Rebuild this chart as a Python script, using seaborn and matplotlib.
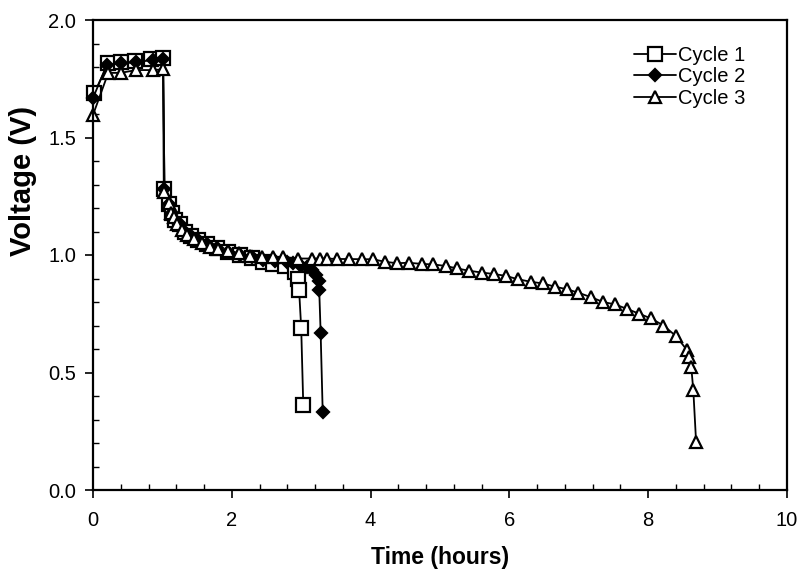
import pandas as pd
import numpy as np
import matplotlib
matplotlib.use('Agg')
import matplotlib.pyplot as plt
import seaborn as sns
from matplotlib.ticker import MultipleLocator

# Data (time in hours, voltage in V)
t1 = [0.02, 0.22, 0.40, 0.60, 0.84, 1.01, 1.03, 1.09, 1.14, 1.18, 1.25, 1.33, 1.41, 1.52,
      1.64, 1.79, 1.94, 2.12, 2.29, 2.45, 2.59, 2.77, 2.91, 2.95, 2.97, 3.00, 3.03]
v1 = [1.69, 1.817, 1.82, 1.826, 1.834, 1.838, 1.28, 1.215, 1.18, 1.15, 1.13, 1.10, 1.08, 1.065,
      1.047, 1.03, 1.013, 1.0, 0.987, 0.97, 0.962, 0.953, 0.928, 0.90, 0.85, 0.69, 0.36]

t2 = [0.0, 0.2, 0.4, 0.62, 0.86, 1.01, 1.03, 1.09, 1.14, 1.18, 1.25, 1.33, 1.41, 1.52, 1.64,
      1.79, 1.94, 2.12, 2.29, 2.45, 2.62, 2.80, 2.88, 2.98, 3.08, 3.16, 3.22, 3.26, 3.26, 3.28, 3.31]
v2 = [1.668, 1.81, 1.815, 1.82, 1.83, 1.835, 1.28, 1.215, 1.18, 1.15, 1.13, 1.10, 1.08, 1.065, 1.047,
      1.03, 1.013, 1.0, 0.99, 0.98, 0.975, 0.97, 0.965, 0.958, 0.95, 0.936, 0.915, 0.89, 0.85, 0.67, 0.33]

t3 = [0.0, 0.22, 0.40, 0.62, 0.86, 1.01, 1.02, 1.09, 1.12, 1.16, 1.21, 1.28, 1.36, 1.46, 1.57,
      1.69, 1.80, 1.94, 2.10, 2.26, 2.43, 2.59, 2.74, 2.95, 3.16, 3.27, 3.37, 3.52, 3.69,
      3.88, 4.03, 4.21, 4.38, 4.55, 4.74, 4.90, 5.09, 5.24, 5.42, 5.61, 5.78, 5.95, 6.12, 6.31,
      6.48, 6.66, 6.83, 6.99, 7.18, 7.35, 7.52, 7.70, 7.87, 8.04, 8.22, 8.40,
      8.56, 8.59, 8.62, 8.65, 8.69]
v3 = [1.596, 1.775, 1.775, 1.787, 1.787, 1.79, 1.27, 1.22, 1.18, 1.16, 1.13, 1.106, 1.085, 1.07, 1.05,
      1.035, 1.025, 1.017, 1.008, 0.996, 0.99, 0.99, 0.992, 0.985, 0.985, 0.985, 0.985, 0.983, 0.983,
      0.982, 0.982, 0.971, 0.965, 0.967, 0.962, 0.960, 0.953, 0.943, 0.933, 0.925, 0.919, 0.911, 0.897, 0.886,
      0.879, 0.865, 0.854, 0.84, 0.82, 0.80, 0.79, 0.77, 0.75, 0.73, 0.70, 0.655,
      0.595, 0.565, 0.525, 0.425, 0.205]

cycles = ['Cycle 1', 'Cycle 2', 'Cycle 3']

sns.set_theme(style='ticks')
plt.rcParams['font.family'] = ['Liberation Sans', 'DejaVu Sans']

fig = plt.figure(figsize=(7.97, 5.72), dpi=100)
ax = fig.add_axes([93 / 797, 82 / 572, 694 / 797, 470 / 572])

df = pd.concat([
    pd.DataFrame({'time': t1, 'voltage': v1, 'cycle': cycles[0]}),
    pd.DataFrame({'time': t2, 'voltage': v2, 'cycle': cycles[1]}),
    pd.DataFrame({'time': t3, 'voltage': v3, 'cycle': cycles[2]}),
])

styles = {
    'Cycle 1': dict(marker='s', markersize=9.5, markerfacecolor='white'),
    'Cycle 2': dict(marker='D', markersize=6.5, markerfacecolor='black'),
    'Cycle 3': dict(marker='^', markersize=9, markerfacecolor='white'),
}
for c in cycles:
    sns.lineplot(data=df[df['cycle'] == c], x='time', y='voltage', ax=ax, sort=False,
                 estimator=None, color='black', linewidth=1.3, markeredgecolor='black',
                 markeredgewidth=1.6, label=c, clip_on=False, **styles[c])

ax.set_xlim(0, 10)
ax.set_ylim(0, 2.0)
ax.xaxis.set_minor_locator(MultipleLocator(0.4))
ax.yaxis.set_minor_locator(MultipleLocator(0.1))
ax.set_xticks([0, 2, 4, 6, 8, 10])
ax.set_xticklabels(['0', '2', '4', '6', '8', '10'])
ax.set_yticks([0, 0.5, 1.0, 1.5, 2.0])
ax.set_yticklabels(['0.0', '0.5', '1.0', '1.5', '2.0'])

ax.tick_params(which='major', direction='out', length=6, width=1.2, labelsize=14.5,
               color='black', labelcolor='black', pad=6)
ax.tick_params(which='minor', direction='in', length=4, width=1.0, color='black')
ax.tick_params(axis='x', which='major', pad=9)
for s in ax.spines.values():
    s.set_visible(True)
    s.set_color('black')
    s.set_linewidth(1.6)

ax.set_xlabel('Time (hours)', fontsize=16.5, fontweight='bold', color='black')
ax.set_ylabel('Voltage (V)', fontsize=21, fontweight='bold', color='black')
ax.xaxis.set_label_coords(0.5, -0.120)
ax.yaxis.set_label_coords(-0.080, 0.657)

leg = ax.legend(loc='upper left', bbox_to_anchor=(0.7795, 0.945), frameon=False,
                fontsize=14.5, handlelength=2.1, handletextpad=0.1, labelspacing=0.12,
                borderpad=0, borderaxespad=0)
for txt in leg.get_texts():
    txt.set_color('black')

plt.savefig('out.png', dpi=100)
plt.close()
